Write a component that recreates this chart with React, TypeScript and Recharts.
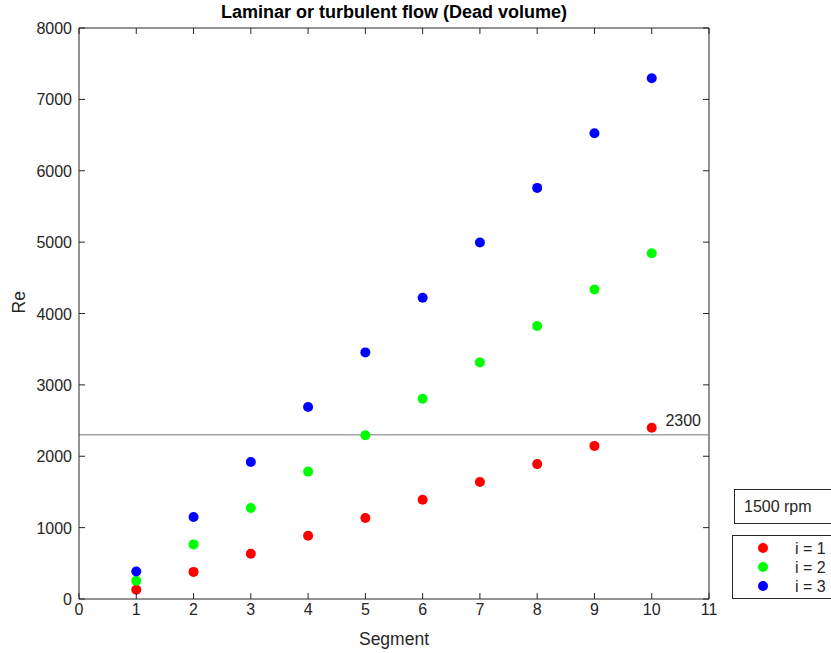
import React from 'react';
import {
  ScatterChart, Scatter, XAxis, YAxis, ReferenceLine, Label,
} from 'recharts';

const segments = [1, 2, 3, 4, 5, 6, 7, 8, 9, 10];
const reI1 = [130, 380, 635, 885, 1135, 1390, 1640, 1890, 2145, 2400];
const reI2 = [255, 765, 1275, 1785, 2295, 2805, 3315, 3825, 4335, 4845];
const reI3 = [385, 1150, 1920, 2690, 3455, 4220, 4995, 5760, 6525, 7295];
const xTicks = [0, 1, 2, 3, 4, 5, 6, 7, 8, 9, 10, 11];
const yTicks = [0, 1000, 2000, 3000, 4000, 5000, 6000, 7000, 8000];
const threshold = 2300;

const series = [
  { name: 'i = 1', values: reI1, color: '#ff0000' },
  { name: 'i = 2', values: reI2, color: '#00ff00' },
  { name: 'i = 3', values: reI3, color: '#0000ff' },
];

const FONT = '"Liberation Sans", Arial, Helvetica, sans-serif';
const AXIS = '#262626';
// plot box size, used to mirror the inward ticks on the top / right edges
const PLOT_W = 630;
const PLOT_H = 571;

const Dot = (props: any) => {
  const { cx, cy, fill } = props;
  return <circle cx={cx} cy={cy} r={5} fill={fill} />;
};

const BottomTick = ({ x, y, payload }: any) => (
  <g>
    <line x1={x} y1={y} x2={x} y2={y - 6} stroke={AXIS} strokeWidth={1} />
    <line x1={x} y1={y - PLOT_H} x2={x} y2={y - PLOT_H + 6} stroke={AXIS} strokeWidth={1} />
    <text x={x} y={y + 16} textAnchor="middle" fontSize={16} fill={AXIS} fontFamily={FONT}>
      {payload.value}
    </text>
  </g>
);

const LeftTick = ({ x, y, payload }: any) => (
  <g>
    <line x1={x} y1={y} x2={x + 6} y2={y} stroke={AXIS} strokeWidth={1} />
    <line x1={x + PLOT_W} y1={y} x2={x + PLOT_W - 6} y2={y} stroke={AXIS} strokeWidth={1} />
    <text x={x - 7} y={y + 6} textAnchor="end" fontSize={16} fill={AXIS} fontFamily={FONT}>
      {payload.value}
    </text>
  </g>
);

const ThresholdLabel = (props: any) => {
  const { viewBox } = props;
  return (
    <text x={viewBox.x + viewBox.width - 8} y={viewBox.y - 9} textAnchor="end"
      fontSize={16} fill={AXIS} fontFamily={FONT}>
      {threshold}
    </text>
  );
};

export default function App() {
  const data = series.map((s) => segments.map((seg, i) => ({ x: seg, y: s.values[i] })));

  return (
    <div style={{ position: 'absolute', left: 0, top: 0, width: 831, height: 653, background: '#fff', fontFamily: FONT }}>
      <div style={{ position: 'absolute', left: 0, top: 2, width: 788, textAlign: 'center', fontWeight: 'bold', fontSize: 18, color: '#000' }}>
        Laminar or turbulent flow (Dead volume)
      </div>
      <ScatterChart width={831} height={653} margin={{ top: 28, right: 122, left: 0, bottom: 0 }}>
        <XAxis type="number" dataKey="x" domain={[0, 11]} ticks={xTicks} interval={0}
          stroke={AXIS} tickSize={0} tickMargin={0} tick={<BottomTick />} height={54}>
          <Label value="Segment" position="insideBottom" offset={8} fontSize={17.5} fill={AXIS} fontFamily={FONT} />
        </XAxis>
        <YAxis type="number" dataKey="y" domain={[0, 8000]} ticks={yTicks} interval={0}
          stroke={AXIS} tickSize={0} tickMargin={0} tick={<LeftTick />} width={79}>
          <Label value="Re" angle={-90} position="insideLeft" offset={19} fontSize={17.5} fill={AXIS} fontFamily={FONT} />
        </YAxis>
        <ReferenceLine x={11} stroke={AXIS} strokeWidth={1} />
        <ReferenceLine y={8000} stroke={AXIS} strokeWidth={1} />
        <ReferenceLine y={threshold} stroke="#7a7a7a" strokeWidth={1} label={<ThresholdLabel />} />
        {series.map((s, k) => (
          <Scatter key={s.name} name={s.name} data={data[k]} fill={s.color} shape={<Dot />} isAnimationActive={false} />
        ))}
      </ScatterChart>
      <div style={{ position: 'absolute', left: 734, top: 489, width: 110, height: 35, border: '1px solid #262626', boxSizing: 'border-box', background: '#fff', fontSize: 16, color: AXIS, paddingLeft: 9, lineHeight: '34px' }}>
        1500 rpm
      </div>
      <div style={{ position: 'absolute', left: 732, top: 535, width: 110, height: 64, border: '1px solid #262626', boxSizing: 'border-box', background: '#fff', fontSize: 16, color: AXIS, paddingTop: 3 }}>
        {series.map((s) => (
          <div key={s.name} style={{ position: 'relative', height: 19, lineHeight: '19px' }}>
            <span style={{ position: 'absolute', left: 25, top: 4, width: 10, height: 10, borderRadius: 5, background: s.color }} />
            <span style={{ position: 'absolute', left: 62 }}>{s.name}</span>
          </div>
        ))}
      </div>
    </div>
  );
}
